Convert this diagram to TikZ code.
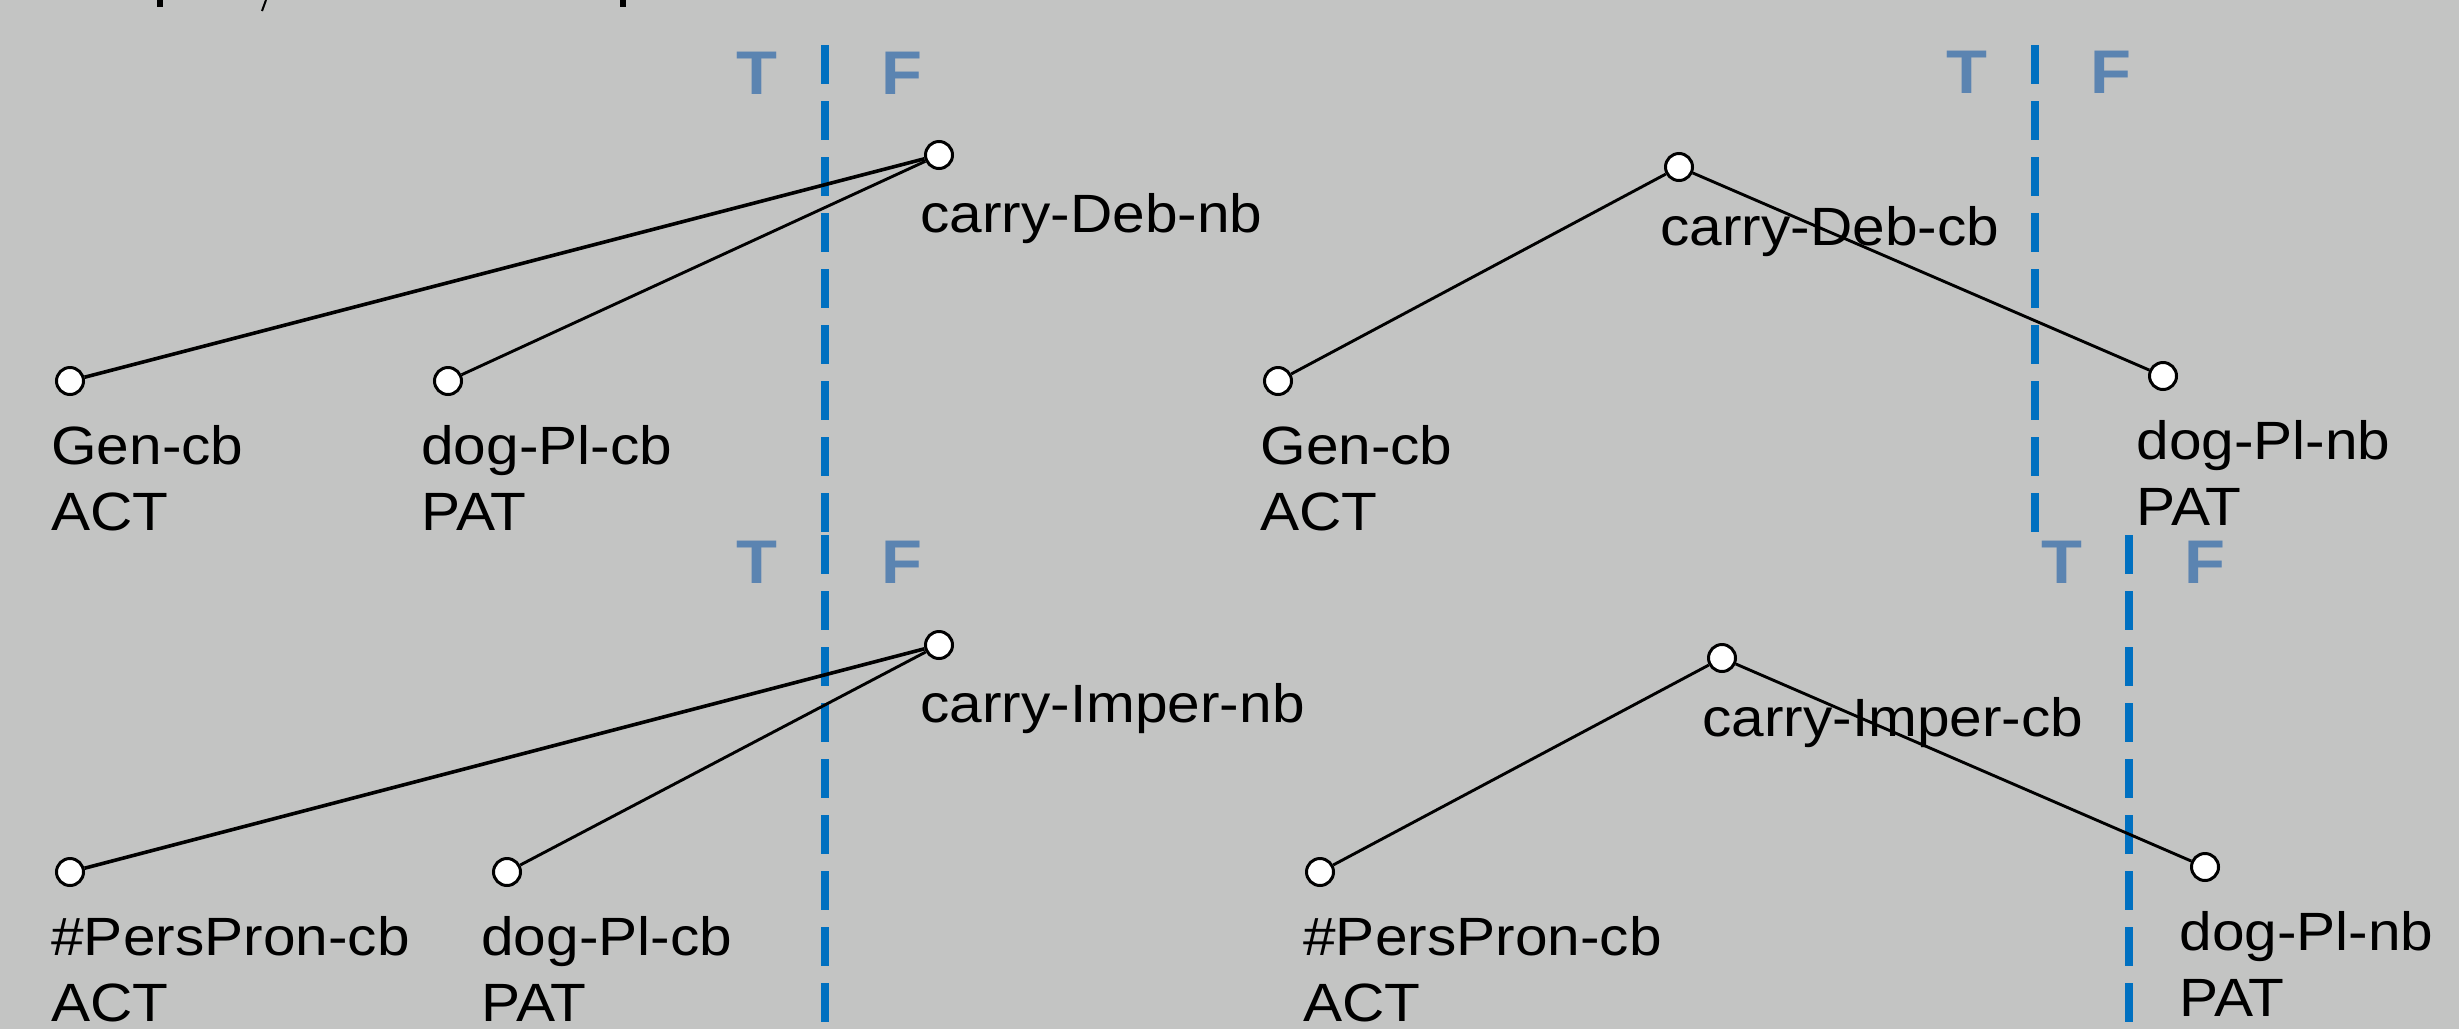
\documentclass[tikz,border=0pt]{standalone}
\usepackage{fontspec}
\usepackage{graphicx}
\setmainfont{Liberation Sans}
\definecolor{pagegrey}{RGB}{195,196,195}
\definecolor{tfblue}{RGB}{91,132,177}
\definecolor{divblue}{RGB}{0,112,192}
% label text, slightly condensed vertically; [t] keeps the first line on the baseline
\newcommand{\lbltext}[1]{\scalebox{1}[0.92]{\begin{tabular}[t]{@{}l@{}}#1\end{tabular}}}
\begin{document}
\begin{tikzpicture}[x=0.5pt,y=-0.5pt,
  vertex/.style={circle, draw=black, fill=white, line width=1.5pt, minimum size=13.5pt, inner sep=0pt},
  lbl/.style={anchor=base west, inner sep=0pt, font=\fontsize{29.3}{36}\selectfont},
  tf/.style={anchor=base, inner sep=0pt, text=tfblue, font=\bfseries\fontsize{33.5}{36}\selectfont},
  divider/.style={draw=divblue, line width=3.8pt, dash pattern=on 19.5pt off 8.5pt},
  edge/.style={draw=black, line width=1.45pt},
  edgeb/.style={draw=black, line width=1.8pt}]
\useasboundingbox (0,0) rectangle (2459,1029);
\fill[pagegrey] (0,0) rectangle (2459,1029);

% descenders of the heading line above
\fill[black] (157,0) rectangle (163,7);
\draw[black, line width=1pt] (266,0) -- (262,11);
\fill[black] (620,0) rectangle (626,7);

% ---------- top left ----------
\coordinate (dAt) at (825,45);
\coordinate (dAb) at (825,532);
\draw[divider] (dAt) -- (dAb);
\node[tf] (tA) at (757,94) {\scalebox{1}[0.92]{T}};
\node[tf] (fA) at (902,94) {\scalebox{1}[0.92]{F}};
\node[vertex] (a0) at (939,155) {};
\node[vertex] (a1) at (70,381) {};
\node[vertex] (a2) at (448,381) {};
\draw[edgeb] (a1) -- (a0);
\draw[edge] (a2) -- (a0);
\node[lbl] (la0) at (920,232) {\lbltext{carry-Deb-nb}};
\node[lbl] (la1) at (51,464) {\lbltext{Gen-cb\\ACT}};
\node[lbl] (la2) at (421,464) {\lbltext{dog-Pl-cb\\PAT}};

% ---------- top right ----------
\coordinate (dBt) at (2035,45);
\coordinate (dBb) at (2035,532);
\draw[divider] (dBt) -- (dBb);
\node[tf] (tB) at (1967,93) {\scalebox{1}[0.92]{T}};
\node[tf] (fB) at (2111,93) {\scalebox{1}[0.92]{F}};
\node[vertex] (b0) at (1679,167) {};
\node[vertex] (b1) at (1278,381) {};
\node[vertex] (b2) at (2163,376) {};
\draw[edge] (b1) -- (b0);
\draw[edge] (b0) -- (b2);
\node[lbl] (lb0) at (1660,245) {\lbltext{carry-Deb-cb}};
\node[lbl] (lb1) at (1260,464) {\lbltext{Gen-cb\\ACT}};
\node[lbl] (lb2) at (2136,459) {\lbltext{dog-Pl-nb\\PAT}};

% ---------- bottom left ----------
\coordinate (dCt) at (825,535);
\coordinate (dCb) at (825,1029);
\draw[divider] (dCt) -- (dCb);
\node[tf] (tC) at (757,583) {\scalebox{1}[0.92]{T}};
\node[tf] (fC) at (902,583) {\scalebox{1}[0.92]{F}};
\node[vertex] (c0) at (939,645) {};
\node[vertex] (c1) at (70,872) {};
\node[vertex] (c2) at (507,872) {};
\draw[edgeb] (c1) -- (c0);
\draw[edge] (c2) -- (c0);
\node[lbl] (lc0) at (920,722) {\lbltext{carry-Imper-nb}};
\node[lbl] (lc1) at (51,955) {\lbltext{\#PersPron-cb\\ACT}};
\node[lbl] (lc2) at (481,955) {\lbltext{dog-Pl-cb\\PAT}};

% ---------- bottom right ----------
\coordinate (dDt) at (2129,535);
\coordinate (dDb) at (2129,1029);
\draw[divider] (dDt) -- (dDb);
\node[tf] (tD) at (2062,583) {\scalebox{1}[0.92]{T}};
\node[tf] (fD) at (2205,583) {\scalebox{1}[0.92]{F}};
\node[vertex] (d0) at (1722,658) {};
\node[vertex] (d1) at (1320,872) {};
\node[vertex] (d2) at (2205,867) {};
\draw[edge] (d1) -- (d0);
\draw[edge] (d0) -- (d2);
\node[lbl] (ld0) at (1702,736) {\lbltext{carry-Imper-cb}};
\node[lbl] (ld1) at (1303,955) {\lbltext{\#PersPron-cb\\ACT}};
\node[lbl] (ld2) at (2179,950) {\lbltext{dog-Pl-nb\\PAT}};
\end{tikzpicture}
\end{document}
